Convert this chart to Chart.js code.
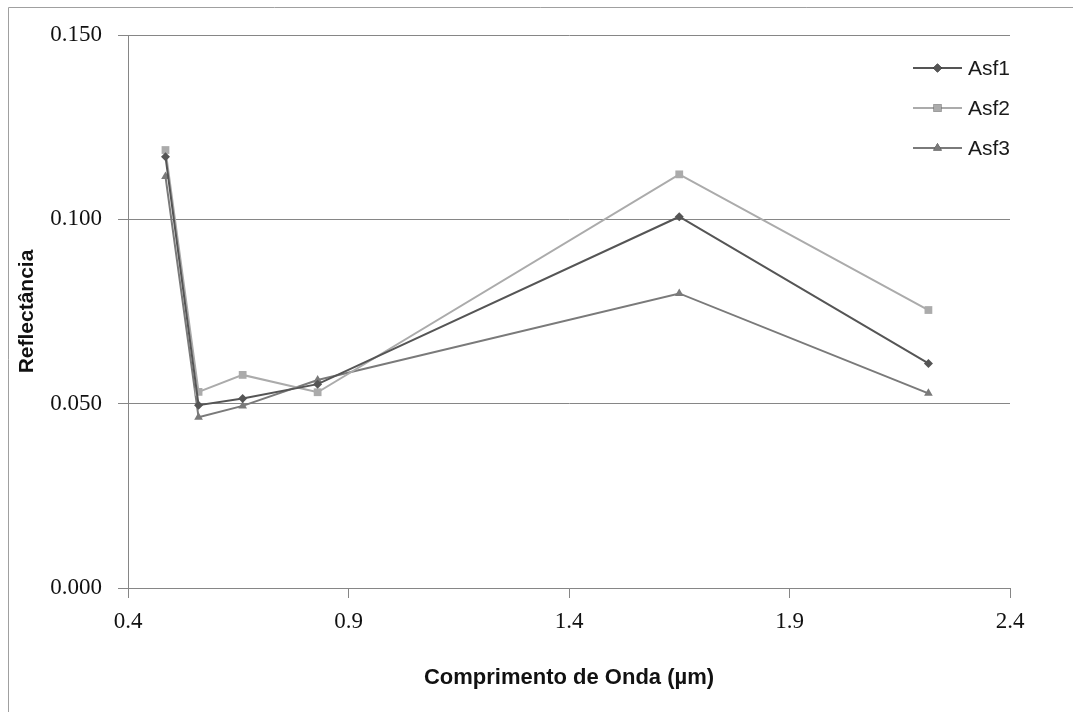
<!DOCTYPE html>
<html>
<head>
<meta charset="utf-8">
<script src="https://cdn.jsdelivr.net/npm/chart.js@4.4.1/dist/chart.umd.min.js"></script>
<style>
  html, body { margin: 0; padding: 0; background: #ffffff; }
  #wrap { width: 1073px; height: 713px; position: relative; }
</style>
</head>
<body>
<div id="wrap"><canvas id="c" width="1073" height="713"></canvas></div>
<script>
// Wavelengths (µm)
const wavelengths = [0.485, 0.56, 0.66, 0.83, 1.65, 2.215];
// Reflectance series
const asf1 = [0.117, 0.0496, 0.0514, 0.0553, 0.1007, 0.0609];
const asf2 = [0.1188, 0.0532, 0.0578, 0.0531, 0.1122, 0.0754];
const asf3 = [0.1116, 0.0463, 0.0494, 0.0564, 0.0799, 0.0528];
const seriesNames = ['Asf1', 'Asf2', 'Asf3'];
// Axis ticks
const yTicks = [0.000, 0.050, 0.100, 0.150];
const xTicks = [0.4, 0.9, 1.4, 1.9, 2.4];
const xTitle = 'Comprimento de Onda (µm)';
const yTitle = 'Reflectância';

const colors = ['#555555', '#ababab', '#7a7a7a'];
const styles = ['rectRot', 'rect', 'triangle'];
const radii = [4.5, 5.5, 5];
const seriesValues = [asf1, asf2, asf3];

const datasets = seriesValues.map((vals, i) => ({
  label: seriesNames[i],
  data: vals.map((v, j) => ({ x: wavelengths[j], y: v })),
  borderColor: colors[i],
  backgroundColor: colors[i],
  borderWidth: 2,
  pointStyle: styles[i],
  pointRadius: radii[i],
  pointBorderWidth: 0,
  pointBackgroundColor: colors[i],
  showLine: true,
  tension: 0
}));

const frame = {
  id: 'frame',
  beforeDraw(chart) {
    const ctx = chart.ctx;
    ctx.save();
    ctx.fillStyle = '#ffffff';
    ctx.fillRect(0, 0, chart.width, chart.height);
    ctx.strokeStyle = '#a0a0a0';
    ctx.lineWidth = 1;
    ctx.beginPath();
    ctx.moveTo(8.5, 712);
    ctx.lineTo(8.5, 7.5);
    ctx.lineTo(1073, 7.5);
    ctx.stroke();
    ctx.restore();
  }
};

const legendPlugin = {
  id: 'customLegend',
  afterDraw(chart) {
    const ctx = chart.ctx;
    ctx.save();
    const x0 = 913, x1 = 962, tx = 968;
    const rows = [68, 108, 148];
    chart.data.datasets.forEach((ds, i) => {
      const y = rows[i];
      ctx.strokeStyle = ds.borderColor;
      ctx.lineWidth = 2;
      ctx.beginPath();
      ctx.moveTo(x0, y);
      ctx.lineTo(x1, y);
      ctx.stroke();
      Chart.helpers.drawPoint(ctx, {
        pointStyle: ds.pointStyle, radius: ds.pointRadius, borderWidth: 0, rotation: 0
      }, (x0 + x1) / 2, y);
      ctx.fillStyle = ds.pointBackgroundColor;
      ctx.fill();
      ctx.fillStyle = '#1a1a1a';
      ctx.font = '21px "Liberation Sans", Arial, sans-serif';
      ctx.textBaseline = 'middle';
      ctx.textAlign = 'left';
      ctx.fillText(ds.label, tx, y + 1);
    });
    ctx.restore();
  }
};

new Chart(document.getElementById('c'), {
  type: 'scatter',
  data: { datasets },
  plugins: [frame, legendPlugin],
  options: {
    responsive: false,
    animation: false,
    layout: { padding: { top: 35, right: 63, left: 0, bottom: 0 } },
    plugins: { legend: { display: false }, tooltip: { enabled: false } },
    scales: {
      x: {
        type: 'linear',
        min: 0.4, max: 2.4,
        afterFit(scale) { scale.height = 125; },
        afterBuildTicks(scale) { scale.ticks = xTicks.map(v => ({ value: v })); },
        ticks: {
          callback: v => Number(v).toFixed(1),
          color: '#111111',
          font: { family: '"Liberation Serif", "Times New Roman", serif', size: 23 },
          padding: 10,
          maxRotation: 0
        },
        grid: { drawOnChartArea: false, tickLength: 10, color: '#868686', lineWidth: 1 },
        border: { color: '#868686', width: 1 },
        title: {
          display: true,
          text: xTitle,
          color: '#111111',
          font: { family: '"Liberation Sans", Arial, sans-serif', size: 22, weight: 'bold' },
          padding: { top: 0, bottom: 22 }
        }
      },
      y: {
        type: 'linear',
        min: 0, max: 0.15,
        afterFit(scale) { scale.width = 128; },
        afterBuildTicks(scale) { scale.ticks = yTicks.map(v => ({ value: v })); },
        ticks: {
          callback: v => Number(v).toFixed(3),
          color: '#111111',
          font: { family: '"Liberation Serif", "Times New Roman", serif', size: 23 },
          padding: 16
        },
        grid: { drawOnChartArea: true, tickLength: 10, color: '#868686', lineWidth: 1 },
        border: { color: '#868686', width: 1 },
        title: {
          display: true,
          text: yTitle,
          color: '#111111',
          font: { family: '"Liberation Sans", Arial, sans-serif', size: 21, weight: 'bold' },
          padding: { top: 15, bottom: 0 }
        }
      }
    }
  }
});
</script>
</body>
</html>
